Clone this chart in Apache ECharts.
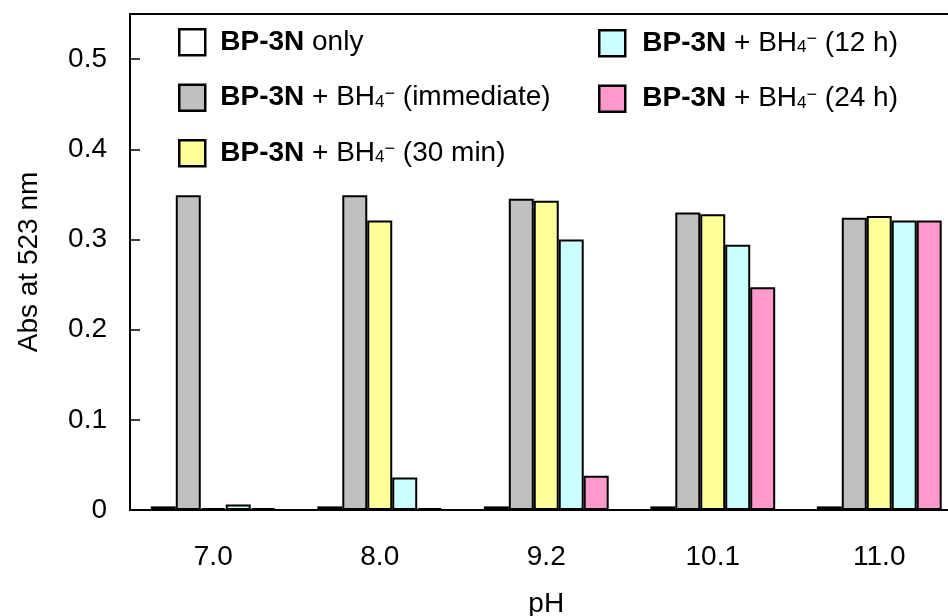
<!DOCTYPE html>
<html>
<head>
<meta charset="utf-8">
<script src="https://cdn.jsdelivr.net/npm/echarts@6/dist/echarts.min.js"></script>
<style>
  html, body { margin: 0; padding: 0; background: #fff; }
  #chart { width: 948px; height: 616px; }
</style>
</head>
<body>
<div id="chart"></div>
<script>
// pH values on the category axis
const categories = ['7.0', '8.0', '9.2', '10.1', '11.0'];

// Absorbance at 523 nm for each condition
const bp3nOnly     = [0.004, 0.004, 0.004, 0.004, 0.004];
const bh4Immediate = [0.349, 0.349, 0.345, 0.330, 0.324];
const bh4Min30     = [0.002, 0.321, 0.343, 0.328, 0.326];
const bh4Hour12    = [0.006, 0.036, 0.300, 0.294, 0.321];
const bh4Hour24    = [0.002, 0.002, 0.038, 0.247, 0.321];

// y-axis tick labels shown
const yTickLabels = ['0', '0.1', '0.2', '0.3', '0.4', '0.5'];

const FONT = '"Liberation Sans", Arial, Helvetica, sans-serif';
const FS = 28;

const seriesDefs = [
  { name: 'only',      data: bp3nOnly,     color: '#ffffff', label: '{b|BP-3N} only' },
  { name: 'immediate', data: bh4Immediate, color: '#c0c0c0', label: '{b|BP-3N} + BH{sub|4}{sup|\u2212} (immediate)' },
  { name: '30 min',    data: bh4Min30,     color: '#ffff99', label: '{b|BP-3N} + BH{sub|4}{sup|\u2212} (30 min)' },
  { name: '12 h',      data: bh4Hour12,    color: '#ccffff', label: '{b|BP-3N} + BH{sub|4}{sup|\u2212} (12 h)' },
  { name: '24 h',      data: bh4Hour24,    color: '#ff99cc', label: '{b|BP-3N} + BH{sub|4}{sup|\u2212} (24 h)' }
];
const labelByName = {};
seriesDefs.forEach(s => { labelByName[s.name] = s.label; });

function legendRich(lead) {
  return {
    b:   { fontFamily: FONT, fontSize: FS, fontWeight: 'bold', color: '#000', lineHeight: 26, padding: [0, 0, 0, lead] },
    sub: { fontFamily: FONT, fontSize: 17, color: '#000', lineHeight: 12, verticalAlign: 'bottom' },
    sup: { fontFamily: FONT, fontSize: 18, color: '#000', lineHeight: 6, verticalAlign: 'top' }
  };
}

function legendBlock(names, left, top, lead) {
  return {
    data: names,
    orient: 'vertical',
    left: left,
    top: top,
    padding: 0,
    itemGap: 27,
    itemWidth: 26,
    itemHeight: 26,
    icon: 'rect',
    selectedMode: false,
    itemStyle: { borderColor: '#000', borderWidth: 2.5 },
    formatter: n => labelByName[n],
    textStyle: { fontFamily: FONT, fontSize: FS, color: '#000', lineHeight: 26, rich: legendRich(lead) }
  };
}

const tenths = v => Math.abs(v * 10 - Math.round(v * 10)) < 1e-6;

const chart = echarts.init(document.getElementById('chart'), null, { renderer: 'canvas' });
chart.setOption({
  animation: false,
  backgroundColor: '#fff',
  textStyle: { fontFamily: FONT },
  grid: {
    left: 130, top: 14, right: -14.5, bottom: 106,
    containLabel: false,
    outerBoundsMode: 'none',
    show: true, borderColor: '#000', borderWidth: 2, backgroundColor: 'transparent'
  },
  legend: [
    legendBlock(['only', 'immediate', '30 min'], 178, 28, 10),
    legendBlock(['12 h', '24 h'], 598, 29, 12)
  ],
  xAxis: {
    type: 'category',
    data: categories,
    name: 'pH',
    nameLocation: 'middle',
    nameGap: 80,
    nameTextStyle: { fontFamily: FONT, fontSize: FS, color: '#000' },
    axisLine: { lineStyle: { color: '#000', width: 2 } },
    axisTick: { inside: true, length: 10, lineStyle: { color: '#000', width: 1.5 } },
    axisLabel: { fontFamily: FONT, fontSize: FS, color: '#000', margin: 33 },
    splitLine: { show: false }
  },
  yAxis: {
    type: 'value',
    min: 0,
    max: 0.55,
    interval: 0.1,
    name: 'Abs at 523 nm',
    nameLocation: 'middle',
    nameRotate: 90,
    nameGap: 87,
    nameTextStyle: { fontFamily: FONT, fontSize: FS, color: '#000' },
    axisLine: { show: true, lineStyle: { color: '#000', width: 2 } },
    axisTick: { show: true, inside: true, length: 10, lineStyle: { color: '#000', width: 1.5 } },
    axisLabel: {
      fontFamily: FONT, fontSize: FS, color: '#000', margin: 23,
      showMaxLabel: false,
      formatter: v => {
        if (!tenths(v)) return '';
        const i = Math.round(v * 10);
        return yTickLabels[i] !== undefined ? yTickLabels[i] : '';
      }
    },
    splitLine: { show: false }
  },
  series: seriesDefs.map(s => ({
    name: s.name,
    type: 'bar',
    data: s.data,
    barGap: '0%',
    barCategoryGap: '25%',
    itemStyle: { color: s.color, borderColor: '#000', borderWidth: 2 },
    emphasis: { disabled: true }
  }))
});
</script>
</body>
</html>
